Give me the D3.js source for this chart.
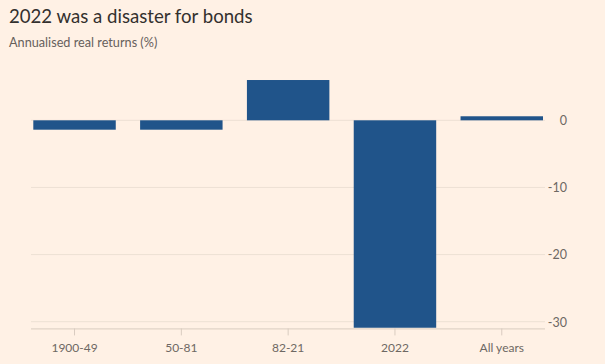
<!DOCTYPE html>
<html><head><meta charset="utf-8">
<script src="https://cdn.jsdelivr.net/npm/d3@7"></script>
<style>
html,body{margin:0;padding:0;background:#fff1e5;}
svg{display:block;}
</style></head>
<body>
<script>
const categories = ["1900-49", "50-81", "82-21", "2022", "All years"];
const values = [-1.4, -1.4, 6.0, -30.9, 0.6];
const yTicks = [0, -10, -20, -30];
const title = "2022 was a disaster for bonds";
const subtitle = "Annualised real returns (%)";

const W = 605, H = 364;
const svg = d3.select("body").append("svg").attr("width", W).attr("height", H);
svg.append("rect").attr("width", W).attr("height", H).attr("fill", "#fff1e5");

const font = "Lato, 'Open Sans', sans-serif";
svg.append("text").attr("x", 9).attr("y", 22.5).text(title)
  .attr("font-family", font).attr("font-size", 18.6).attr("fill", "#33302e");
svg.append("text").attr("x", 9).attr("y", 47).text(subtitle)
  .attr("font-family", font).attr("font-size", 12.7).attr("fill", "#66605c");

const y = d3.scaleLinear().domain([0, -30]).range([120.3, 321.7]);
const yBottom = y(-31.0);
const x = d3.scaleBand().domain(categories).range([33.3, 543]).paddingInner(0.228).paddingOuter(0);

const gridL = 31, gridR = 545;
// grid lines
svg.append("g").selectAll("line").data(yTicks).join("line")
  .attr("x1", gridL).attr("x2", gridR)
  .attr("y1", d => y(d)).attr("y2", d => y(d))
  .attr("stroke", "#ede0d4").attr("stroke-width", 1);

// y labels
const yAxis = d3.axisRight(y).tickValues(yTicks).tickSize(0).tickPadding(0).tickFormat(d => String(d));
const gy = svg.append("g").attr("transform", `translate(567,0)`).call(yAxis);
gy.select(".domain").remove();
gy.selectAll("text").attr("text-anchor", "end").attr("dy", "0.35em")
  .attr("font-family", font).attr("font-size", 12.5).attr("fill", "#6e6863");

// bars
svg.append("g").selectAll("rect").data(values).join("rect")
  .attr("x", (d, i) => x(categories[i]))
  .attr("width", x.bandwidth())
  .attr("y", d => Math.min(y(d), y(0)))
  .attr("height", d => Math.abs(y(d) - y(0)))
  .attr("fill", "#20548a");

// x axis
const xAxis = d3.axisBottom(x).tickSize(7).tickPadding(8).tickSizeOuter(0);
const gx = svg.append("g").attr("transform", `translate(0,${yBottom})`).call(xAxis);
gx.select(".domain").attr("d", `M${gridL},0.5H${gridR}`).attr("stroke", "#d9ccc0");
gx.selectAll(".tick line").attr("stroke", "#d9ccc0");
gx.selectAll("text").attr("font-family", font).attr("font-size", 12).attr("fill", "#6e6863");
</script>
</body></html>
